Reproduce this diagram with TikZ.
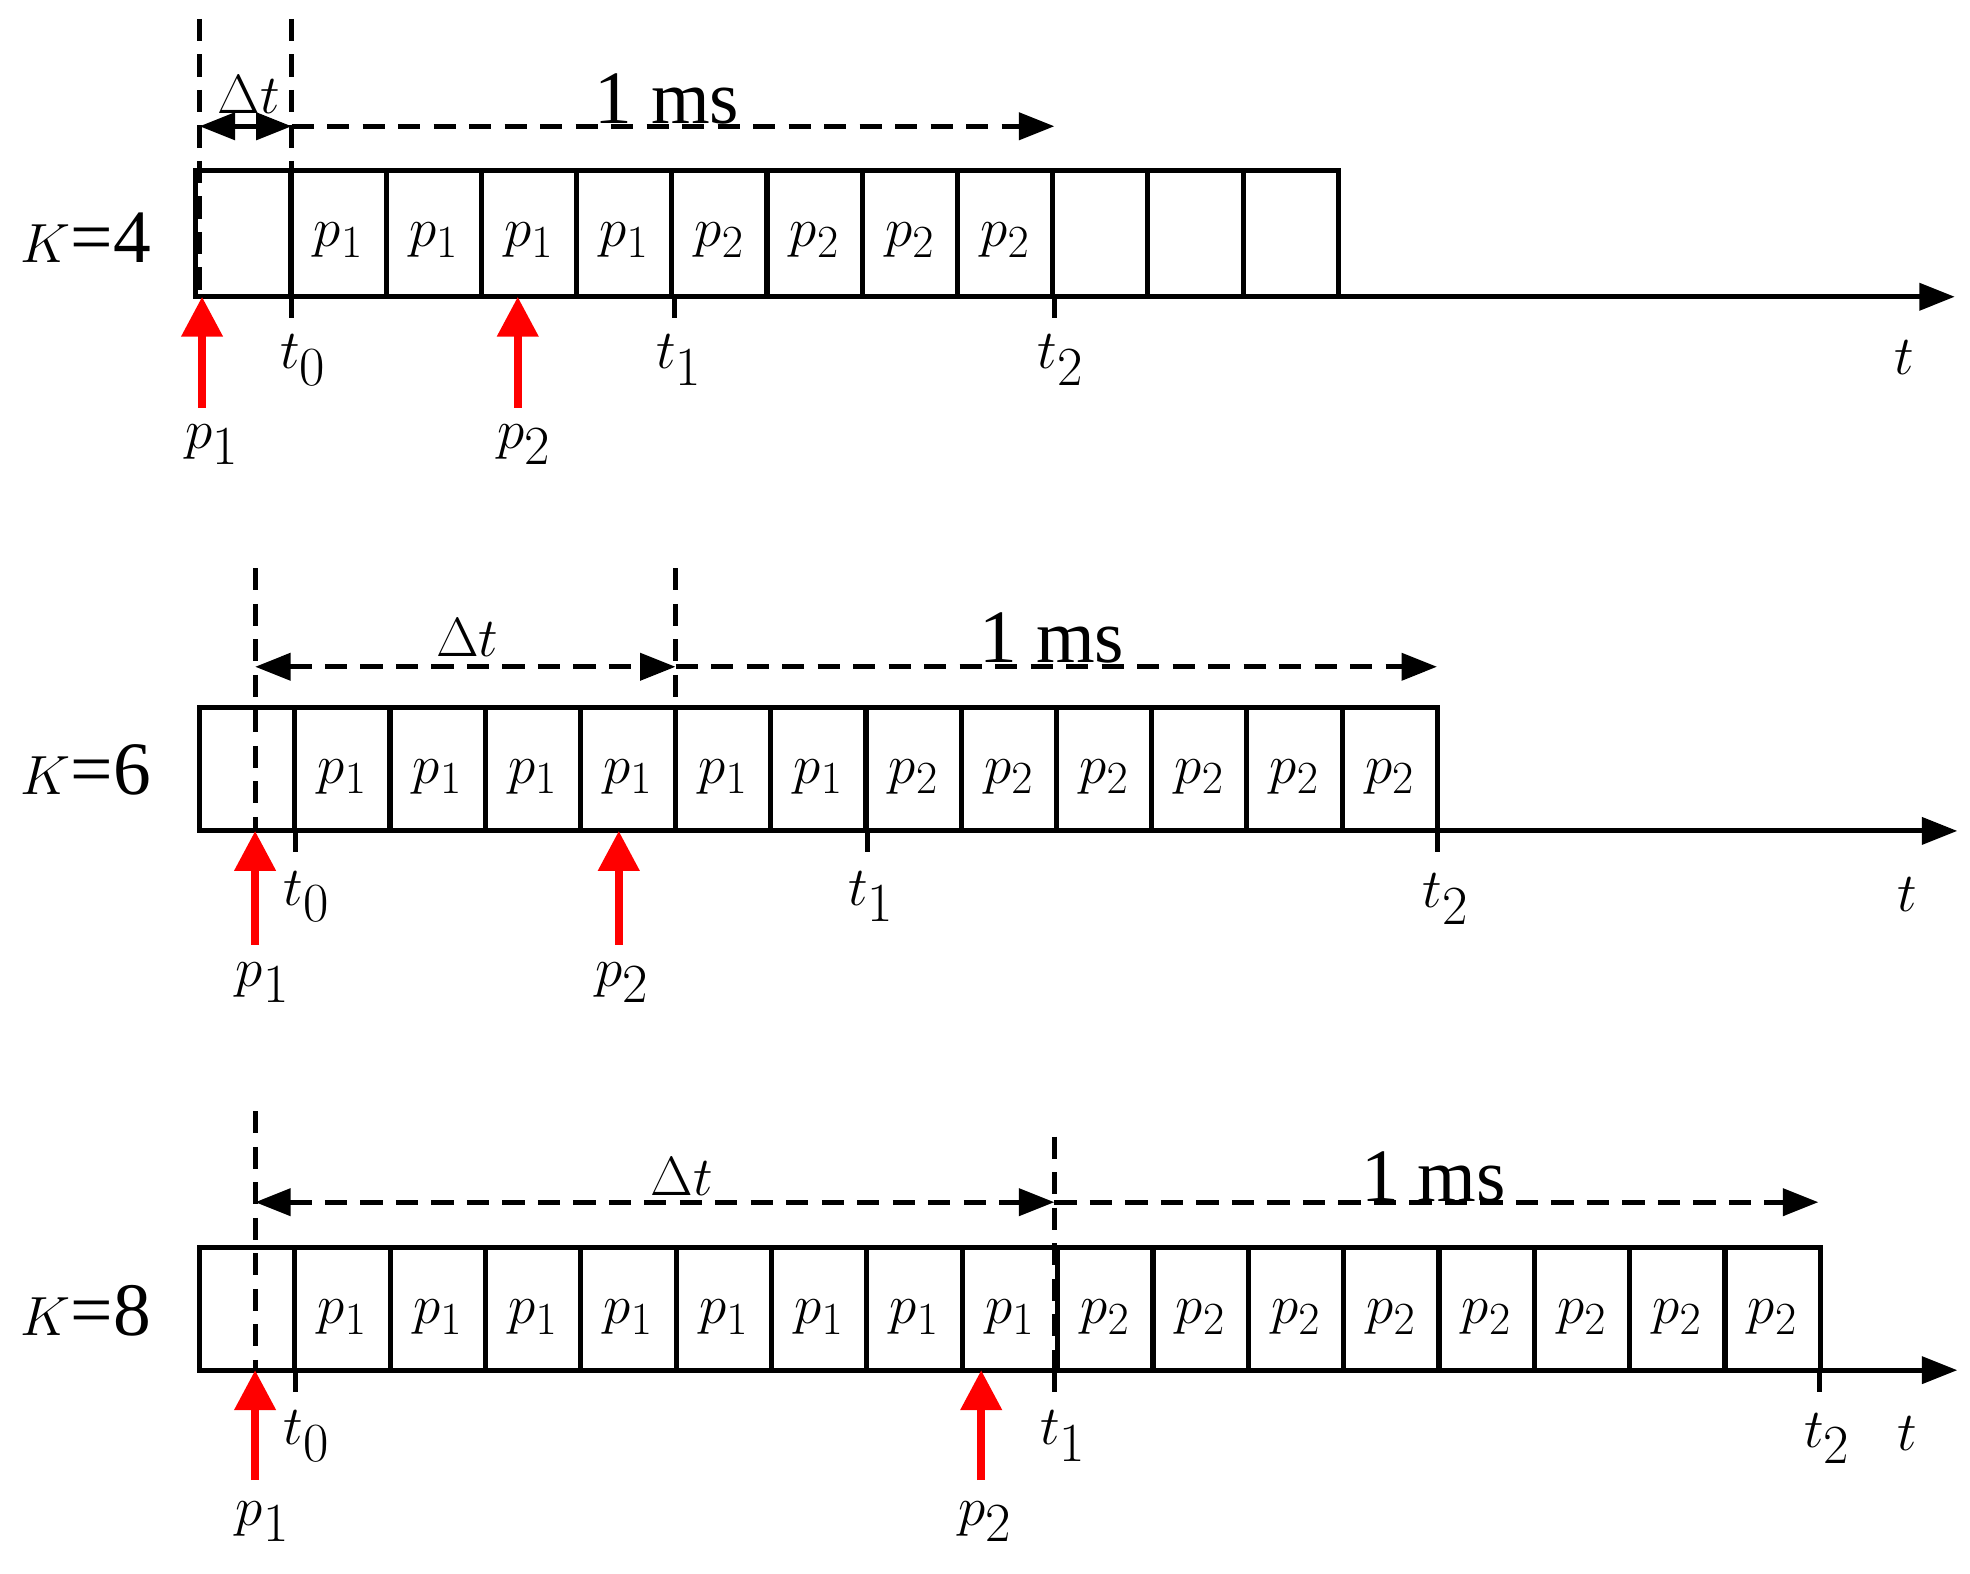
\documentclass[tikz,border=0pt]{standalone}
\usepackage{fontspec}
\setmainfont{Liberation Serif}
\usetikzlibrary{arrows.meta}
\begin{document}
\begin{tikzpicture}[x=0.02cm,y=-0.02cm,
  ln/.style={line width=2.3pt},
  ax/.style={line width=2.3pt,-{Triangle[length=16pt,width=12pt]}},
  dimarr/.style={line width=2.3pt,dashed,dash pattern=on 10pt off 6pt,-{Triangle[length=16pt,width=12pt]}},
  dimboth/.style={line width=2.3pt,dashed,dash pattern=on 10pt off 6pt,{Triangle[length=16pt,width=12pt]}-{Triangle[length=16pt,width=12pt]}},
  vdash/.style={line width=2.3pt,dash pattern=on 10pt off 6pt},
  red/.style={draw=red,line width=3.5pt,-{Triangle[length=18pt,width=18pt]}},
  big/.style={font=\fontsize{34}{40}\selectfont},
  cell/.style={font=\fontsize{32}{38}\selectfont}]
\useasboundingbox (0,0) rectangle (1560,1246);
% ---------- Row 1 ----------
\foreach \i in {0,...,11}{
  \pgfmathsetmacro\xa{155+75.4*\i}\pgfmathsetmacro\xb{155+75.4*(\i+1)}
  \draw[ln] (\xa,135) rectangle (\xb,235);}
\foreach \i in {1,...,4}{\node[cell] at ({155+75.4*\i+37.7},190) {$p_1$};}
\foreach \i in {5,...,8}{\node[cell] at ({155+75.4*\i+37.7},190) {$p_2$};}
\coordinate (a1s) at (155,235); \coordinate (a1e) at (1548,235);
\draw[ax] (a1s) -- (a1e);
\foreach \x in {231,534,835}{\draw[ln] (\x,235) -- (\x,252);}
\draw[vdash] (158,15) -- (158,235); \draw[vdash] (231,15) -- (231,235);
\coordinate (d1a) at (158,100); \coordinate (d1b) at (231,100); \coordinate (d1c) at (835,100);
\draw[dimboth] (d1a) -- (d1b); \draw[dimarr] (d1b) -- (d1c);
\node[big] at (197,75) {$\Delta t$}; \node[big] at (528,78) {1 ms};
\node[big] at (68,188) {$K$=4};
\node[big] at (240,285) {$t_0$}; \node[big] at (538,285) {$t_1$};
\node[big] at (840,285) {$t_2$}; \node[big] at (1508,283) {$t$};
\coordinate (r1a) at (160,323); \coordinate (r1b) at (410,323);
\draw[red] (r1a) -- (160,235); \draw[red] (r1b) -- (410,235);
\node[big] at (168,352) {$p_1$}; \node[big] at (415,352) {$p_2$};
% ---------- Row 2 ----------
\foreach \i in {0,...,12}{
  \pgfmathsetmacro\xa{158+75.4*\i}\pgfmathsetmacro\xb{158+75.4*(\i+1)}
  \draw[ln] (\xa,560) rectangle (\xb,658);}
\foreach \i in {1,...,6}{\node[cell] at ({158+75.4*\i+37.7},615) {$p_1$};}
\foreach \i in {7,...,12}{\node[cell] at ({158+75.4*\i+37.7},615) {$p_2$};}
\draw[ax] (158,658) -- (1550,658);
\foreach \x in {234,687,1138}{\draw[ln] (\x,658) -- (\x,675);}
\draw[vdash] (202,450) -- (202,658); \draw[vdash] (535,450) -- (535,560);
\coordinate (d2a) at (202,528); \coordinate (d2b) at (535,528); \coordinate (d2c) at (1138,528);
\draw[dimboth] (d2a) -- (d2b); \draw[dimarr] (d2b) -- (d2c);
\node[big] at (370,505) {$\Delta t$}; \node[big] at (833,505) {1 ms};
\node[big] at (68,610) {$K$=6};
\node[big] at (243,710) {$t_0$}; \node[big] at (690,710) {$t_1$};
\node[big] at (1145,712) {$t_2$}; \node[big] at (1510,708) {$t$};
\draw[red] (202,748) -- (202,658); \draw[red] (490,748) -- (490,658);
\node[big] at (208,778) {$p_1$}; \node[big] at (493,778) {$p_2$};
% ---------- Row 3 ----------
\foreach \i in {0,...,16}{
  \pgfmathsetmacro\xa{158+75.5*\i}\pgfmathsetmacro\xb{158+75.5*(\i+1)}
  \draw[ln] (\xa,988) rectangle (\xb,1085);}
\foreach \i in {1,...,8}{\node[cell] at ({158+75.5*\i+37.7},1043) {$p_1$};}
\foreach \i in {9,...,16}{\node[cell] at ({158+75.5*\i+37.7},1043) {$p_2$};}
\draw[ax] (158,1085) -- (1550,1085);
\foreach \x in {234,835,1441}{\draw[ln] (\x,1085) -- (\x,1102);}
\draw[vdash] (202,880) -- (202,1085); \draw[vdash] (835,900) -- (835,1085);
\coordinate (d3a) at (202,952); \coordinate (d3b) at (835,952); \coordinate (d3c) at (1440,952);
\draw[dimboth] (d3a) -- (d3b); \draw[dimarr] (d3b) -- (d3c);
\node[big] at (540,932) {$\Delta t$}; \node[big] at (1135,932) {1 ms};
\node[big] at (68,1038) {$K$=8};
\node[big] at (243,1137) {$t_0$}; \node[big] at (842,1137) {$t_1$};
\node[big] at (1447,1139) {$t_2$}; \node[big] at (1510,1135) {$t$};
\draw[red] (202,1172) -- (202,1085); \draw[red] (777,1172) -- (777,1085);
\node[big] at (208,1205) {$p_1$}; \node[big] at (780,1205) {$p_2$};
\end{tikzpicture}
\end{document}
